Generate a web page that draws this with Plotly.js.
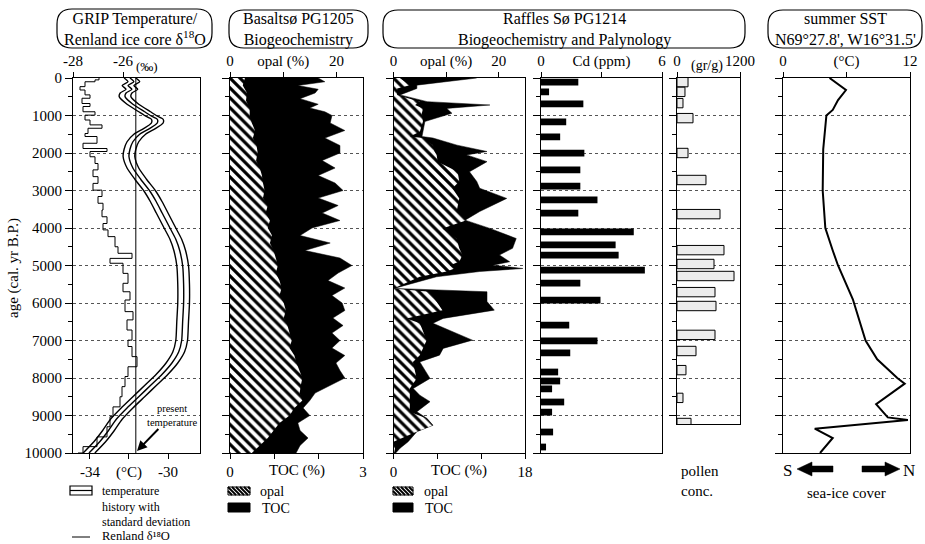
<!DOCTYPE html>
<html><head><meta charset="utf-8">
<script src="https://cdn.plot.ly/plotly-3.0.1.min.js"></script>
<style>html,body{margin:0;padding:0;background:#fff}#chart{width:925px;height:544px}</style>
</head><body><div id="chart"></div>
<script>
// ---------- GRIP temperature (°C) ----------
const gripAge = [0,100,200,300,400,500,700,900,1000,1100,1200,1350,1500,1700,1900,2100,2400,2700,3000,3300,3600,4000,4300,4600,5000,5500,6000,6500,7000,7300,7600,7900,8200,8500,8800,9100,9400,9700,10000];
const gripT = [-31.95,-31.75,-32.05,-31.85,-32.15,-32.2,-31.8,-31.2,-30.9,-30.55,-30.55,-30.95,-31.45,-31.8,-31.95,-32.0,-31.8,-31.4,-30.95,-30.6,-30.3,-29.9,-29.6,-29.4,-29.25,-29.2,-29.2,-29.25,-29.3,-29.45,-29.8,-30.3,-30.9,-31.5,-32.1,-32.65,-33.05,-33.5,-34.05];
const gripSD = 0.3;
const presentT = -31.65;
// ---------- Renland d18O (permil) ----------
const renAge = [0,50,100,230,320,450,540,680,760,900,990,1120,1250,1340,1480,1560,1740,1880,1960,2100,2280,2450,2630,2810,2990,3160,3340,3520,3700,3880,4050,4230,4500,4675,4810,4940,5210,5475,5700,5920,6230,6450,6720,6990,7160,7430,7700,7960,8230,8500,8770,9030,9300,9570,9830,10000];
const renD = [-26.96,-27.12,-27.52,-27.72,-27.52,-27.32,-27.64,-27.32,-27.6,-27.12,-27.52,-27.32,-26.84,-27.4,-27.52,-27.04,-27.6,-26.64,-27.32,-27.12,-27.0,-27.2,-27.0,-27.2,-26.84,-27.0,-26.8,-26.84,-26.64,-26.8,-26.6,-26.32,-26.2,-25.64,-26.52,-26.0,-25.8,-26.0,-25.72,-25.92,-25.6,-25.84,-25.64,-25.8,-25.64,-25.44,-25.8,-25.92,-26.04,-26.12,-26.4,-26.52,-26.64,-27.04,-27.6,-27.8];
// ---------- Basaltsø PG1205 ----------
const basOpalAge = [0,200,400,600,800,1000,1200,1400,1600,1800,2000,2200,2400,2600,2800,3000,3200,3400,3600,3800,4000,4200,4400,4600,4800,5000,5200,5400,5600,5800,6000,6200,6400,6600,6800,7000,7200,7400,7600,7800,8000,8200,8400,8600,8800,9000,9200,9400,9600,9800,10000];
const basOpal = [2.8,2.4,3.2,3.0,3.7,3.7,4.1,4.7,4.3,5.0,5.2,4.9,5.6,6.0,6.2,6.5,6.2,7.1,6.7,7.5,7.1,7.9,7.5,8.2,8.6,9.0,8.6,9.3,9.7,9.3,10.1,10.5,10.1,10.8,11.2,11.6,11.2,12.1,12.5,13.1,13.6,13.3,13.1,13.6,12.1,11.2,9.3,8.2,7.1,5.6,4.1];
const basTocAge = [0,100,200,300,400,500,550,700,800,900,1000,1200,1400,1600,1800,2000,2200,2400,2600,2800,3000,3200,3400,3600,3800,4000,4200,4400,4600,4800,5000,5200,5400,5600,5800,6000,6200,6400,6600,6800,7000,7200,7400,7600,7800,8000,8200,8400,8600,8800,9000,9200,9400,9600,9800,10000];
const basToc = [1.99,2.14,1.53,1.99,1.92,1.69,1.58,1.99,1.80,2.14,2.30,2.26,2.59,2.14,2.48,2.48,2.08,2.37,1.99,2.37,2.55,1.99,2.44,2.08,2.48,1.85,1.58,2.26,1.69,2.48,2.75,2.44,2.21,2.59,2.30,2.53,2.59,2.32,2.55,2.30,2.48,2.30,2.59,2.39,2.48,2.59,2.26,1.92,1.80,1.65,1.80,1.53,1.58,1.76,1.58,1.49];
// ---------- Raffles Sø PG1214 ----------
const rafAge = [0,190,280,450,630,720,810,940,1160,1430,1560,1600,1790,1960,2050,2230,2500,2760,2940,3210,3560,3790,4010,4280,4540,4720,4900,4990,5080,5160,5300,5610,5700,5960,6190,6410,6540,6990,7210,7390,7570,8010,8280,8460,8630,8900,9080,9260,9430,9700,9870,10000];
const rafOpal = [1.2,3.1,0.7,0.7,5.0,4.1,5.6,5.4,5.6,5.0,3.1,5.6,7.5,7.8,8.2,8.4,12.2,12.5,11.2,12.5,12.0,13.9,9.3,12.0,12.5,13.1,12.5,10.7,11.6,10.1,5.0,0,6.9,8.2,9.3,2.5,5.0,6.3,5.6,5.0,3.7,4.4,3.1,3.1,3.1,3.1,6.3,7.5,4.4,0,0.3,0.1];
const rafToc = [11.4,3.2,3.2,0.9,4.6,13.2,7.3,8.0,4.3,4.0,3.9,5.4,8.7,12.8,10.0,12.8,10.4,11.4,11.8,15.5,11.8,9.8,13.2,16.8,16.3,14.5,15.9,13.6,17.7,11.8,5.9,0.1,12.8,12.8,13.8,6.8,5.4,10.8,6.8,6.3,3.6,5.0,2.7,3.6,5.0,3.2,4.6,5.4,3.2,2.0,0.9,0.3];
const cdAge = [110,370,690,1170,1570,2000,2450,2880,3250,3600,4100,4450,4720,5120,5470,5920,6590,7010,7330,7840,8080,8290,8640,8910,9440,9840];
const cdVal = [1.85,0.4,2.1,1.25,0.95,2.15,1.95,1.95,2.8,1.85,4.6,3.7,3.85,5.15,1.95,2.95,1.4,2.8,1.45,0.85,0.95,0.55,1.15,0.55,0.6,0.25];
const polAge = [110,370,670,1070,2000,2720,3630,4590,4960,5280,5710,6080,6850,7280,7790,8530,9200];
const polVal = [210,152,114,305,210,552,819,895,705,1086,724,743,724,362,171,114,267];
// ---------- summer SST ----------
const sstAge = [0,320,590,850,1000,1900,3000,4000,4600,5000,5900,7000,7500,8000,8150,8700,9050,9120,9350,9600,10000];
const sstT = [4.4,5.95,5.2,4.7,4.1,3.8,3.75,4.0,4.7,5.2,6.6,7.8,8.9,10.8,11.5,8.8,9.9,11.8,3.0,4.7,3.5];

// ---------- layout helpers ----------
const W = 925, H = 544, FONT = 'Liberation Serif, Times New Roman, serif';
const px = x => x / W, py = y => 1 - y / H;
const yDom = [py(453), py(78)];
const polDom = [py(424), py(78)];
const polMax = (424 - 78) / 0.0375;

function yAx(anchor, domain, range, labels) {
  return {anchor, domain, range, tickmode:'linear', tick0:0, dtick:1000,
    exponentformat:'none', separatethousands:false, tickformat:'d',
    ticks:'outside', ticklen:7, tickwidth:1, tickcolor:'#000',
    minor:{dtick:500, ticks:'outside', ticklen:4, tickcolor:'#000', showgrid:false},
    showgrid:true, gridcolor:'#555', griddash:'dot', gridwidth:1,
    showline:true, mirror:true, linecolor:'#000', linewidth:1,
    showticklabels:labels, zeroline:false, fixedrange:true,
    tickfont:{size:15, family:FONT, color:'#000'}};
}
function xAx(o) {
  const a = {domain:o.domain, range:o.range, side:o.side, anchor:o.anchor,
    tickmode:'array', tickvals:o.tv, ticktext:o.tt, ticks:'outside', ticklen:5, tickangle:0,
    tickcolor:'#000', showgrid:false, zeroline:false, fixedrange:true,
    showline:!o.overlaying, mirror:!o.overlaying, linecolor:'#000', linewidth:1,
    tickfont:{size:15, family:FONT, color:'#000'}};
  if (o.minor) a.minor = {tickmode:'array', tickvals:o.minor, ticks:'outside', ticklen:5, tickcolor:'#000', showgrid:false};
  if (o.overlaying) { a.overlaying = o.overlaying; delete a.domain; }
  return a;
}
function roundBox(x0, y0, x1, y1, r) {
  const P = (x, y) => px(x) + ',' + py(y);
  const path = 'M' + P(x0 + r, y0) + ' L' + P(x1 - r, y0) + ' Q' + P(x1, y0) + ' ' + P(x1, y0 + r) +
    ' L' + P(x1, y1 - r) + ' Q' + P(x1, y1) + ' ' + P(x1 - r, y1) +
    ' L' + P(x0 + r, y1) + ' Q' + P(x0, y1) + ' ' + P(x0, y1 - r) +
    ' L' + P(x0, y0 + r) + ' Q' + P(x0, y0) + ' ' + P(x0 + r, y0) + ' Z';
  return {type:'path', xref:'paper', yref:'paper', path, line:{color:'#000', width:1.2}, fillcolor:'rgba(0,0,0,0)'};
}
function rectShape(x0, y0, x1, y1, fill, lw) {
  return {type:'rect', xref:'paper', yref:'paper', x0:px(x0), x1:px(x1), y0:py(y1), y1:py(y0),
    fillcolor:fill, line:{color:'#000', width:lw}};
}
function polyShape(pts) {
  const path = pts.map((p, i) => (i ? 'L' : 'M') + px(p[0]) + ',' + py(p[1])).join(' ') + ' Z';
  return {type:'path', xref:'paper', yref:'paper', path, fillcolor:'#000', line:{color:'#000', width:0.5}};
}
function hatchSwatch(x0, y0, x1, y1) {
  const h = y1 - y0, w = x1 - x0;
  let path = '';
  for (let s = -h; s < w; s += 4) {
    const u0 = Math.max(0, -s), u1 = Math.min(h, w - s);
    if (u1 <= u0) continue;
    path += 'M' + px(x0 + s + u0) + ',' + py(y0 + u0) + ' L' + px(x0 + s + u1) + ',' + py(y0 + u1) + ' ';
  }
  return [rectShape(x0, y0, x1, y1, '#fff', 1),
    {type:'path', xref:'paper', yref:'paper', path, line:{color:'#000', width:1.8}}];
}
function ann(text, x, y, o) {
  return Object.assign({text, xref:'paper', yref:'paper', x:px(x), y:py(y), showarrow:false,
    xanchor:'center', yanchor:'middle', font:{family:FONT, size:15, color:'#000'}}, o || {});
}
const F = s => ({family:FONT, size:s, color:'#000'});

// ---------- traces ----------
const hatch = {shape:'\\', fgcolor:'#000', bgcolor:'#fff', size:7, solidity:0.45};
const bandLine = {color:'#000', width:1.4, shape:'spline', smoothing:0.6};
const traces = [
  {x:gripT.map(v => v - gripSD), y:gripAge, xaxis:'x', yaxis:'y', mode:'lines', line:bandLine},
  {x:gripT, y:gripAge, xaxis:'x', yaxis:'y', mode:'lines', line:bandLine},
  {x:gripT.map(v => v + gripSD), y:gripAge, xaxis:'x', yaxis:'y', mode:'lines', line:bandLine},
  {x:renD, y:renAge, xaxis:'x2', yaxis:'y', mode:'lines', line:{color:'#000', width:1, shape:'vh'}},
  {x:basToc, y:basTocAge, xaxis:'x3', yaxis:'y3', mode:'lines', fill:'tozerox', fillcolor:'#000', line:{color:'#000', width:0.5}},
  {x:basOpal, y:basOpalAge, xaxis:'x4', yaxis:'y3', mode:'lines', fill:'tozerox', fillpattern:hatch, fillcolor:'#fff', line:{color:'#000', width:0}},
  {x:rafToc, y:rafAge, xaxis:'x5', yaxis:'y5', mode:'lines', fill:'tozerox', fillcolor:'#000', line:{color:'#000', width:0.5}},
  {x:rafOpal, y:rafAge, xaxis:'x6', yaxis:'y5', mode:'lines', fill:'tozerox', fillpattern:hatch, fillcolor:'#fff', line:{color:'#000', width:0}},
  {type:'bar', orientation:'h', x:cdVal, y:cdAge, width:180, xaxis:'x7', yaxis:'y7', marker:{color:'#000', line:{width:0}}},
  {type:'bar', orientation:'h', x:polVal, y:polAge, width:250, xaxis:'x8', yaxis:'y8', marker:{color:'#ececec', line:{color:'#000', width:1}}},
  {x:sstT, y:sstAge, xaxis:'x9', yaxis:'y9', mode:'lines', line:{color:'#000', width:2}}
];

// ---------- shapes ----------
const shapes = [
  roundBox(57, 9, 212, 48, 15),
  roundBox(229, 10, 368, 48, 15),
  roundBox(383, 10, 745, 48, 15),
  roundBox(768, 10, 922, 48, 15),
  {type:'line', xref:'x', yref:'y', x0:presentT, x1:presentT, y0:0, y1:10000, line:{color:'#000', width:1}},
  rectShape(70, 486, 92, 495, '#fff', 1.2),
  {type:'line', xref:'paper', yref:'paper', x0:px(70), x1:px(92), y0:py(490.5), y1:py(490.5), line:{color:'#000', width:1.2}},
  {type:'line', xref:'paper', yref:'paper', x0:px(72), x1:px(90), y0:py(537), y1:py(537), line:{color:'#000', width:1}},
  ...hatchSwatch(228, 487, 250, 495),
  rectShape(228, 503, 250, 512, '#000', 1),
  ...hatchSwatch(393, 487, 413, 495),
  rectShape(393, 503, 413, 512, '#000', 1),
  // sea-ice arrows
  polyShape([[797,469],[812,462],[812,466],[833,466],[833,472],[812,472],[812,476]]),
  polyShape([[900,469],[885,462],[885,466],[862,466],[862,472],[885,472],[885,476]])
];

// ---------- annotations ----------
const annotations = [
  ann('GRIP Temperature/<br>Renland ice core δ<sup>18</sup>O', 135, 29, {font:F(16)}),
  ann('Basaltsø PG1205<br>Biogeochemistry', 298, 29, {font:F(16)}),
  ann('Raffles Sø PG1214<br>Biogeochemistry and Palynology', 564, 29, {font:F(16)}),
  ann("summer SST<br>N69°27.8', W16°31.5'", 845, 29, {font:F(16)}),
  ann('(‰)', 134, 66, {xanchor:'left', font:F(13)}),
  ann('age (cal. yr B.P.)', 13, 268, {textangle:-90}),
  ann('TOC (%)', 297, 470),
  ann('TOC (%)', 459, 470),
  ann('(gr/g)', 707, 66, {font:F(14)}),
  {text:'present<br>temperature', xref:'paper', yref:'paper', x:px(137), y:py(451), ax:35, ay:-36,
    showarrow:true, arrowhead:2, arrowsize:1, arrowwidth:2, arrowcolor:'#000', font:F(10.5)},
  ann('temperature<br>history with<br>standard deviation', 100, 506, {xanchor:'left', align:'left', font:F(12)}),
  ann('Renland δ¹⁸O', 100, 536, {xanchor:'left', font:F(12.5)}),
  ann('opal', 258, 491, {xanchor:'left', font:F(14)}),
  ann('TOC', 260, 508, {xanchor:'left', font:F(14)}),
  ann('opal', 422, 491, {xanchor:'left', font:F(14)}),
  ann('TOC', 423, 508, {xanchor:'left', font:F(14)}),
  ann('pollen<br>conc.', 679, 481, {xanchor:'left', align:'left'}),
  ann('S', 787, 470, {font:F(17)}),
  ann('N', 909, 470, {font:F(17)}),
  ann('sea-ice cover', 846, 493)
];

const layout = {
  width:W, height:H, margin:{l:0, r:0, t:0, b:0, autoexpand:false},
  paper_bgcolor:'#fff', plot_bgcolor:'rgba(0,0,0,0)', showlegend:false,
  font:{family:FONT, size:15, color:'#000'},
  xaxis: xAx({domain:[px(73), px(200)], range:[-34.87, -28.36], side:'bottom', anchor:'y', tv:[-34,-32,-30], tt:['-34','(°C)','-30']}),
  xaxis2: xAx({range:[-28, -22.92], side:'top', anchor:'y', overlaying:'x', tv:[-28,-26], tt:['-28','-26']}),
  xaxis3: xAx({domain:[px(230), px(363)], range:[0, 3], side:'bottom', anchor:'y3', tv:[0,3], tt:['0','3'], minor:[1,2]}),
  xaxis4: xAx({range:[0, 25], side:'top', anchor:'y3', overlaying:'x3', tv:[0,10,20], tt:['0','opal (%)','20']}),
  xaxis5: xAx({domain:[px(393.5), px(525)], range:[0, 18], side:'bottom', anchor:'y5', tv:[0,18], tt:['0','18'], minor:[6,12]}),
  xaxis6: xAx({range:[0, 25], side:'top', anchor:'y5', overlaying:'x5', tv:[0,10,20], tt:['0','opal (%)','20']}),
  xaxis7: xAx({domain:[px(541), px(662)], range:[0, 6], side:'top', anchor:'y7', tv:[0,3,6], tt:['0','Cd (ppm)','6']}),
  xaxis8: xAx({domain:[px(677), px(740)], range:[0, 1200], side:'top', anchor:'y8', tv:[0,1200], tt:['0','1200']}),
  xaxis9: xAx({domain:[px(783), px(910)], range:[0, 12], side:'top', anchor:'y9', tv:[0,6,12], tt:['0','(°C)','12']}),
  yaxis: yAx('x', yDom, [10000, 0], true),
  yaxis3: yAx('x3', yDom, [10000, 0], false),
  yaxis5: yAx('x5', yDom, [10000, 0], false),
  yaxis7: yAx('x7', yDom, [10000, 0], false),
  yaxis8: yAx('x8', polDom, [polMax, 0], false),
  yaxis9: yAx('x9', yDom, [10000, 0], false),
  shapes, annotations
};
Plotly.newPlot('chart', traces, layout, {staticPlot:true, displayModeBar:false});
</script></body></html>
